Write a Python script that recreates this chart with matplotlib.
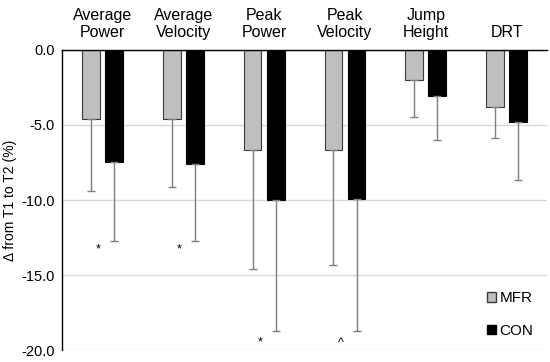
import numpy as np
import matplotlib.pyplot as plt
from matplotlib.patches import Patch

plt.rcParams['font.family'] = ['Liberation Sans', 'DejaVu Sans']

# data
categories = ['Average\nPower', 'Average\nVelocity', 'Peak\nPower', 'Peak\nVelocity', 'Jump\nHeight', 'DRT']
mfr = [-4.6, -4.6, -6.7, -6.7, -2.0, -3.8]
con = [-7.5, -7.6, -10.0, -9.9, -3.1, -4.8]
mfr_err = [4.8, 4.5, 7.9, 7.6, 2.5, 2.1]
con_err = [5.2, 5.1, 8.7, 8.8, 2.9, 3.9]
marks = ['*', '*', '*', '^', '', '']
mark_y = [-13.3, -13.3, -19.5, -19.5, 0, 0]

x = np.arange(len(categories))
w = 0.22
off = 0.143

fig = plt.figure(figsize=(5.5, 3.62), dpi=100)
ax = fig.add_axes([0.1127, 0.033, 0.882, 0.829])

ax.set_axisbelow(True)
ax.yaxis.grid(True, color='#d9d9d9', lw=1)

ax.bar(x - off, mfr, w, color='#bfbfbf', edgecolor='#3a3a3a', lw=0.8, label='MFR')
ax.bar(x + off, con, w, color='black', edgecolor='black', lw=0.8, label='CON')
ax.errorbar(x - off, mfr, yerr=[mfr_err, np.zeros(len(mfr))], fmt='none',
            ecolor='#7f7f7f', elinewidth=1, capsize=3, capthick=1)
ax.errorbar(x + off, con, yerr=[con_err, np.zeros(len(con))], fmt='none',
            ecolor='#7f7f7f', elinewidth=1, capsize=3, capthick=1)

for i, m in enumerate(marks):
    if m:
        ax.text(x[i] - 0.05, mark_y[i], m, ha='center', va='center', fontsize=9)

ax.set_xlim(-0.5, 5.5)
ax.set_ylim(-20, 0)
ax.set_yticks([0, -5, -10, -15, -20])
ax.set_yticklabels(['%.1f' % v for v in [0, -5, -10, -15, -20]], fontsize=10.5)
ax.set_ylabel('Δ from T1 to T2 (%)', fontsize=10, labelpad=3)

ax.xaxis.tick_top()
ax.set_xticks(x)
ax.set_xticklabels(categories, fontsize=11.5, linespacing=1.15)
ax.tick_params(axis='both', length=0)
ax.tick_params(axis='x', pad=7)
ax.tick_params(axis='y', pad=5)

for s in ['right', 'bottom']:
    ax.spines[s].set_visible(False)
ax.spines['top'].set_color('black')
ax.spines['top'].set_linewidth(1)
ax.spines['left'].set_color('black')
ax.spines['left'].set_linewidth(1)

handles = [Patch(facecolor='#bfbfbf', edgecolor='#3a3a3a', label='MFR'),
           Patch(facecolor='black', edgecolor='black', label='CON')]
ax.legend(handles=handles, loc='lower right', bbox_to_anchor=(1.0, -0.005), frameon=False,
          fontsize=11, handlelength=0.6, handleheight=0.6, handletextpad=0.2,
          labelspacing=1.2)

fig.savefig('out.png', dpi=100)
